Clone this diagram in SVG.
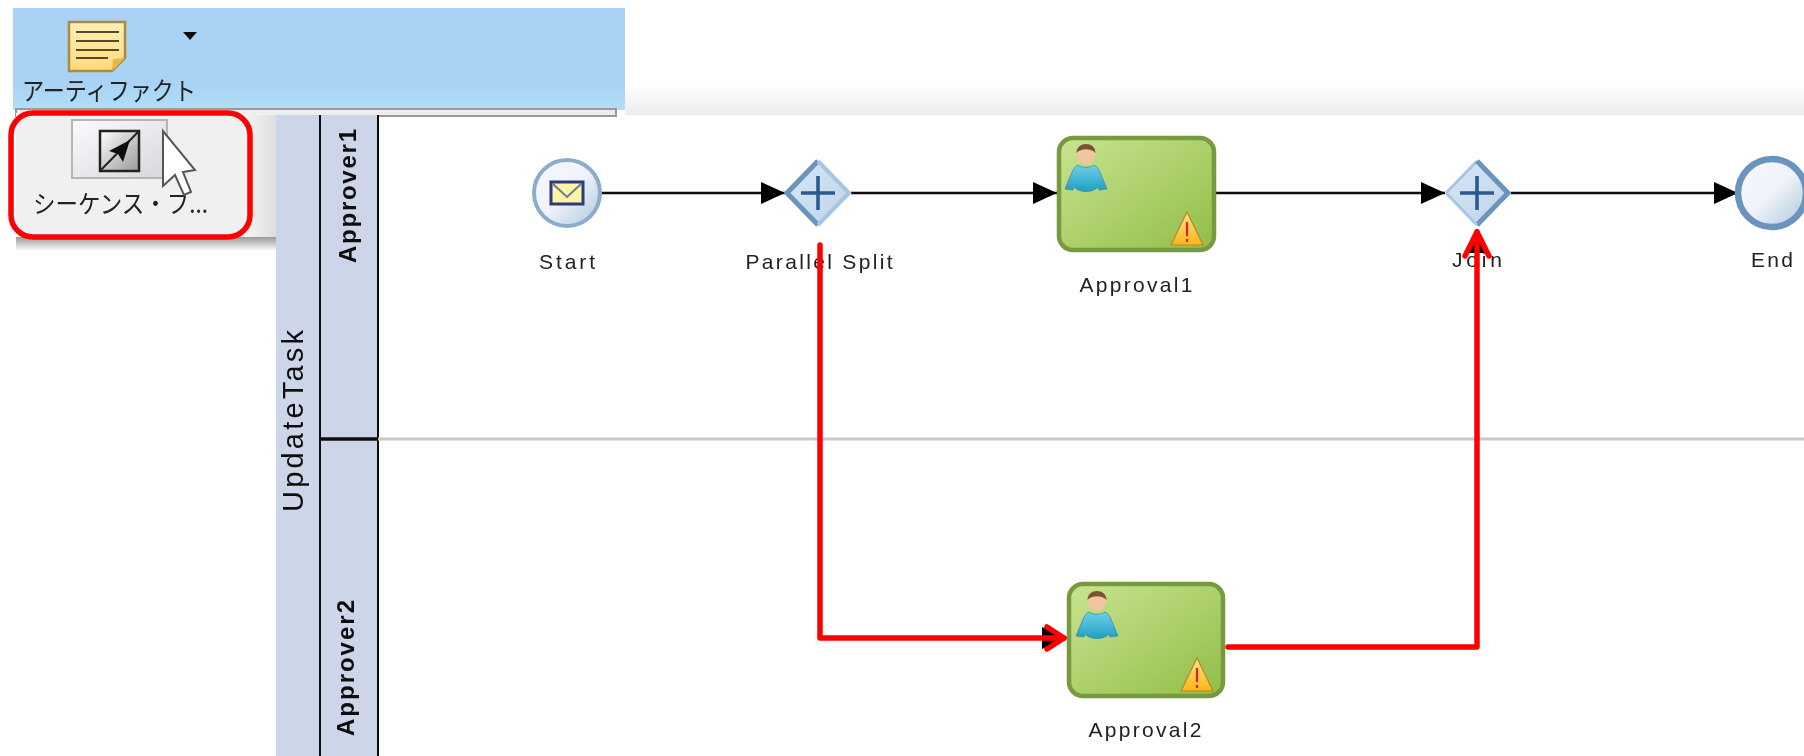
<svg xmlns="http://www.w3.org/2000/svg" width="1804" height="756" viewBox="0 0 1804 756">
<style>
.lbl{font-family:"Liberation Sans",Arial,sans-serif;font-size:21px;fill:#222;text-anchor:middle}
.lane{font-family:"Liberation Sans",Arial,sans-serif;font-size:24px;font-weight:bold;fill:#111;text-anchor:middle}
.jp{font-family:"Noto Sans CJK JP",sans-serif;font-size:25px;fill:#222}
.flow{fill:none;stroke:#111;stroke-width:2.4}
.red{fill:none;stroke:#f00;stroke-width:5.5;stroke-linejoin:round;stroke-linecap:round}
.task{stroke:#769a3e;stroke-width:4.5;fill:url(#gTask)}
.soft{filter:url(#soft)}
</style>
<defs>
<filter id="soft" x="-5%" y="-5%" width="110%" height="110%"><feGaussianBlur stdDeviation="0.55"/></filter>
<linearGradient id="gBlue" x1="0" y1="0" x2="0" y2="1"><stop offset="0" stop-color="#a9d2f5"/><stop offset=".75" stop-color="#a9d3f5"/><stop offset="1" stop-color="#b0e0f5"/></linearGradient>
<linearGradient id="gTop" x1="0" y1="0" x2="0" y2="1"><stop offset="0" stop-color="#fff"/><stop offset="1" stop-color="#ececec"/></linearGradient>
<linearGradient id="gShadow" x1="0" y1="0" x2="0" y2="1"><stop offset="0" stop-color="#999"/><stop offset="1" stop-color="#fff"/></linearGradient>
<linearGradient id="gShadowL" x1="0" y1="0" x2="1" y2="0"><stop offset="0" stop-color="#f0f0f0"/><stop offset="1" stop-color="#ddd"/></linearGradient>
<linearGradient id="gTask" x1="0" y1="0" x2="1" y2="1"><stop offset="0" stop-color="#c8e490"/><stop offset="1" stop-color="#92bd48"/></linearGradient>
<linearGradient id="gCircle" x1="0" y1="0" x2="1" y2="1"><stop offset="0" stop-color="#f6f8fe"/><stop offset=".5" stop-color="#f0f3fb"/><stop offset="1" stop-color="#a9c6da"/></linearGradient>
<linearGradient id="gDia" x1="0" y1="0" x2="1" y2="1"><stop offset="0" stop-color="#d8e8f6"/><stop offset="1" stop-color="#bdd4e8"/></linearGradient>
<linearGradient id="gBody" x1="0" y1="0" x2="0" y2="1"><stop offset="0" stop-color="#6fd0e8"/><stop offset="1" stop-color="#1f9fc4"/></linearGradient>
<linearGradient id="gWarn" x1="0" y1="0" x2="0" y2="1"><stop offset="0" stop-color="#ffe28a"/><stop offset="1" stop-color="#fdb515"/></linearGradient>
<linearGradient id="gNote" x1="0" y1="0" x2="0" y2="1"><stop offset="0" stop-color="#fff2b8"/><stop offset="1" stop-color="#ffd97a"/></linearGradient>
<linearGradient id="gBtn" x1="0" y1="0" x2="1" y2="1"><stop offset="0" stop-color="#fbfaff"/><stop offset="1" stop-color="#d8d6da"/></linearGradient>
<linearGradient id="gIcon" x1="0" y1="0" x2="1" y2="1"><stop offset="0" stop-color="#fff"/><stop offset="1" stop-color="#999"/></linearGradient>
<marker id="arrow" markerUnits="userSpaceOnUse" markerWidth="26" markerHeight="24" refX="24" refY="11" orient="auto"><path d="M0 0L24 11L0 22Z" fill="#000"/></marker>
<g id="person"><circle cx="0" cy="-19" r="9.5" fill="#f0c6a0"/><path d="M-9.5-20C-9.5-32 9.5-32 9.5-20C5-25-5-25-9.5-20Z" fill="#7a5230"/><path d="M-8-8C-13-6-15 2-21 16L-13 17L-12 14C-7 20 7 20 12 14L13 17L21 16C15 2 13-6 8-8C4-5-4-5-8-8Z" fill="url(#gBody)" stroke="#3d8ca8" stroke-width=".8"/></g>
<g id="warn"><path d="M0-18L16 15H-16Z" fill="url(#gWarn)" stroke="#b58a2a" stroke-width="1.2"/><path d="M0-8V6M0 9V12" stroke="#d22" stroke-width="2.2" fill="none"/></g>
<g id="gate"><path d="M0-32L31 0L0 32L-31 0Z" fill="url(#gDia)"/><path d="M-17 0H17M0-17V17" stroke="#2c5a92" stroke-width="3.6" fill="none"/></g>
</defs>
<rect width="1804" height="756" fill="#fff"/>
<rect x="625" y="84" width="1179" height="31" fill="url(#gTop)"/>
<g id="toolbar" class="soft">
<rect x="13" y="8" width="612" height="102" fill="url(#gBlue)"/>
<rect x="16" y="109" width="600" height="7" fill="#ededed" stroke="#9a9a9a" stroke-width="2"/>
<rect x="16" y="113" width="261" height="124" fill="#f0f0f0"/>
<rect x="16" y="237" width="261" height="14" fill="url(#gShadow)"/>
<rect x="252" y="115" width="25" height="122" fill="url(#gShadowL)"/>
<path d="M69 22H125V58L112 71H69Z" fill="url(#gNote)" stroke="#b08a3a" stroke-width="2.5"/>
<path d="M76 32H119M76 41H119M76 50H119M76 58H108" stroke="#554b2a" stroke-width="2" fill="none"/>
<path d="M112 71L125 58L113 59Z" fill="#e3b94f"/>
<path d="M183 32H197L190 40Z" fill="#111"/>
<text class="jp" x="22" y="100" textLength="174" lengthAdjust="spacingAndGlyphs">アーティファクト</text>
<rect x="72" y="120" width="95" height="58" fill="url(#gBtn)" stroke="#b5b5b5" stroke-width="2"/>
<rect x="100" y="131" width="39" height="40" fill="url(#gIcon)" stroke="#222" stroke-width="2.5"/>
<path d="M100 171L139 131" stroke="#222" stroke-width="2" fill="none"/>
<path d="M130 140L123 162L118 154L109 151Z" fill="#111"/>
<text class="jp" x="33" y="213" textLength="175" lengthAdjust="spacingAndGlyphs">シーケンス・フ...</text>
<path d="M163 131V186L175 175L184 195L191 192L183 172L195 170Z" fill="#fff" stroke="#555" stroke-width="2"/>
</g>
<g id="pool" class="soft">
<path d="M276 115H377V756H276Z" fill="#ccd6e8"/>
<path d="M320 115V756M378 115V756" stroke="#111" stroke-width="2" fill="none"/>
<path d="M320 439H378" stroke="#111" stroke-width="3.5" fill="none"/>
<path d="M378 439H1804" stroke="#c8c8c8" stroke-width="3" fill="none"/>
<text class="lane" style="font-size:29px;font-weight:normal" transform="translate(303 421) rotate(-90)" textLength="182">UpdateTask</text>
<text class="lane" transform="translate(356 196) rotate(-90)" textLength="134">Approver1</text>
<text class="lane" transform="translate(354 668) rotate(-90)" textLength="136">Approver2</text>
</g>
<g id="connectors" class="soft">
<path class="flow" d="M601 193H785" marker-end="url(#arrow)"/>
<path class="flow" d="M851 193H1057" marker-end="url(#arrow)"/>
<path class="flow" d="M1215 193H1445" marker-end="url(#arrow)"/>
<path class="flow" d="M1511 193H1738" marker-end="url(#arrow)"/>
<path class="flow" d="M820 245V638H1066" marker-end="url(#arrow)"/>
<path class="flow" d="M1226 647H1477V229" marker-end="url(#arrow)"/>
</g>
<g id="n-start" class="soft"><circle cx="567" cy="193" r="33" fill="url(#gCircle)" stroke="#8cacc9" stroke-width="4"/><rect x="551" y="182" width="32" height="22" fill="#fdf4a8" stroke="#2b3d7a" stroke-width="3"/><path d="M553 184L567 197L581 184" fill="none" stroke="#6d7a90" stroke-width="2"/><text class="lbl" x="567" y="269" textLength="56">Start</text></g>
<g id="n-split" class="soft"><use href="#gate" x="818" y="193"/><path d="M818 225L787 193L818 161" fill="none" stroke="#6a93bd" stroke-width="5"/><path d="M818 161L849 193L818 225" fill="none" stroke="#a8c6e4" stroke-width="4"/><text class="lbl" x="819" y="269" textLength="147">Parallel  Split</text></g>
<g id="n-a1" class="soft"><rect class="task" x="1059" y="138" width="155" height="112" rx="14"/><use href="#person" x="1086" y="173"/><use href="#warn" x="1187" y="230"/><text class="lbl" x="1136" y="292" textLength="113">Approval1</text></g>
<g id="n-join" class="soft"><use href="#gate" x="1477" y="193"/><path d="M1446 193L1477 161" fill="none" stroke="#a8c6e4" stroke-width="3"/><path d="M1477 161L1508 193L1477 225" fill="none" stroke="#6a93bd" stroke-width="5"/><path d="M1446 193L1477 225" fill="none" stroke="#a8c6e4" stroke-width="3"/><text class="lbl" x="1477" y="267" textLength="50">Join</text></g>
<g id="n-end" class="soft"><circle cx="1772" cy="193" r="34" fill="url(#gCircle)" stroke="#6a93bd" stroke-width="6.5"/><text class="lbl" x="1772" y="267" textLength="42">End</text></g>
<g id="n-a2" class="soft"><rect class="task" x="1069" y="584" width="154" height="112" rx="14"/><use href="#person" x="1097" y="620"/><use href="#warn" x="1197" y="676"/><text class="lbl" x="1145" y="737" textLength="113">Approval2</text></g>
<g id="annotations">
<rect x="11" y="113" width="239" height="124" rx="22" fill="none" stroke="#f00" stroke-width="5.5"/>
<path class="red" d="M820 245V638H1064"/>
<path class="red" d="M1047 627L1064 638L1047 649"/>
<path class="red" d="M1228 647H1477V232"/>
<path class="red" d="M1465 256L1477 232L1489 256"/>
</g>
</svg>
